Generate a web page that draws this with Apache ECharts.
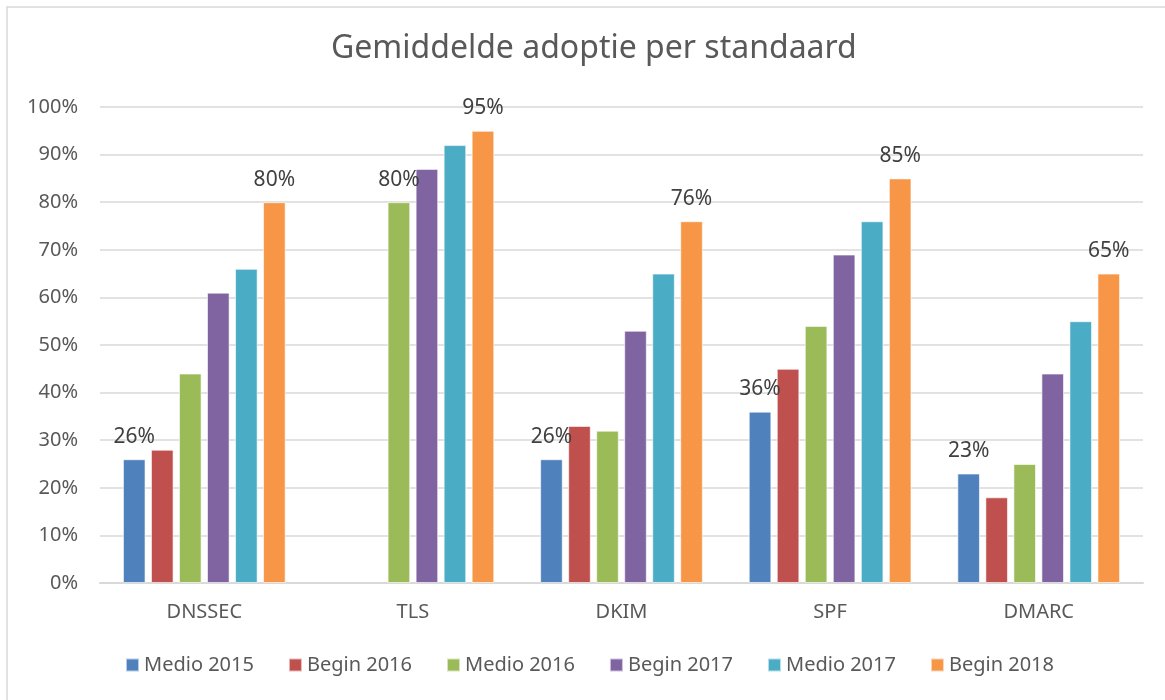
<!DOCTYPE html>
<html>
<head>
<meta charset="utf-8">
<script src="https://cdn.jsdelivr.net/npm/echarts@6/dist/echarts.min.js"></script>
<style>
	html, body { margin: 0; padding: 0; background: #fff; }
	#main { width: 1165px; height: 700px; }
</style>
</head>
<body>
<div id="main"></div>
<script>
'use strict';
var categories = ['DNSSEC', 'TLS', 'DKIM', 'SPF', 'DMARC'];
var seriesNames = ['Medio 2015', 'Begin 2016', 'Medio 2016', 'Begin 2017', 'Medio 2017', 'Begin 2018'];
var values = [
	[26, null, 26, 36, 23],
	[28, null, 33, 45, 18],
	[44, 80, 32, 54, 25],
	[61, 87, 53, 69, 44],
	[66, 92, 65, 76, 55],
	[80, 95, 76, 85, 65]
];
// which series carries the low label per category, and the last series always labelled
var lowLabelSeries = [0, 2, 0, 0, 0];
var yTicks = [0, 10, 20, 30, 40, 50, 60, 70, 80, 90, 100];
var colors = ['#4F81BD', '#C0504D', '#9BBB59', '#8064A2', '#4BACC6', '#F79646'];

var font = 'Noto Sans';
var textColor = '#595959';

var series = seriesNames.map(function (name, s) {
	return {
		name: name,
		type: 'bar',
		barGap: '24%',
		barCategoryGap: '22%',
		itemStyle: { color: colors[s], borderColor: 'rgba(255,255,255,0.6)', borderWidth: 1 },
		label: {
			show: false,
			position: 'top',
			distance: 12,
			formatter: '{c}%',
			fontFamily: font,
			fontSize: 21,
			color: '#404040'
		},
		data: values[s].map(function (v, c) {
			var show = (s === seriesNames.length - 1) || (lowLabelSeries[c] === s);
			return { value: v, label: { show: show && v !== null } };
		})
	};
});

var chart = echarts.init(document.getElementById('main'));
chart.setOption({
	animation: false,
	color: colors,
	title: {
		text: 'Gemiddelde adoptie per standaard',
		left: 326,
		top: 28,
		textStyle: { fontFamily: font, fontWeight: 'normal', fontSize: 32, color: textColor }
	},
	graphic: [{
		type: 'rect',
		shape: { x: 7, y: 7, width: 1300, height: 900 },
		style: { fill: null, stroke: '#d9d9d9', lineWidth: 1.5 },
		silent: true
	}],
	legend: {
		bottom: 20,
		left: 120,
		itemWidth: 13,
		itemHeight: 13,
		itemGap: 34,
		icon: 'rect',
		textStyle: { fontFamily: font, fontSize: 20, color: textColor }
	},
	grid: { left: 100, right: 22, top: 107, bottom: 117 },
	xAxis: {
		type: 'category',
		data: categories,
		axisTick: { show: false },
		axisLine: { lineStyle: { color: '#d9d9d9', width: 2 } },
		axisLabel: { fontFamily: font, fontSize: 20, color: textColor, margin: 19 }
	},
	yAxis: {
		type: 'value',
		min: yTicks[0],
		max: yTicks[yTicks.length - 1],
		interval: 10,
		axisLine: { show: false },
		axisTick: { show: false },
		splitLine: { lineStyle: { color: '#d9d9d9', width: 1.5 } },
		axisLabel: { fontFamily: font, fontSize: 20, color: textColor, margin: 22, formatter: '{value}%' }
	},
	series: series
});
</script>
</body>
</html>
